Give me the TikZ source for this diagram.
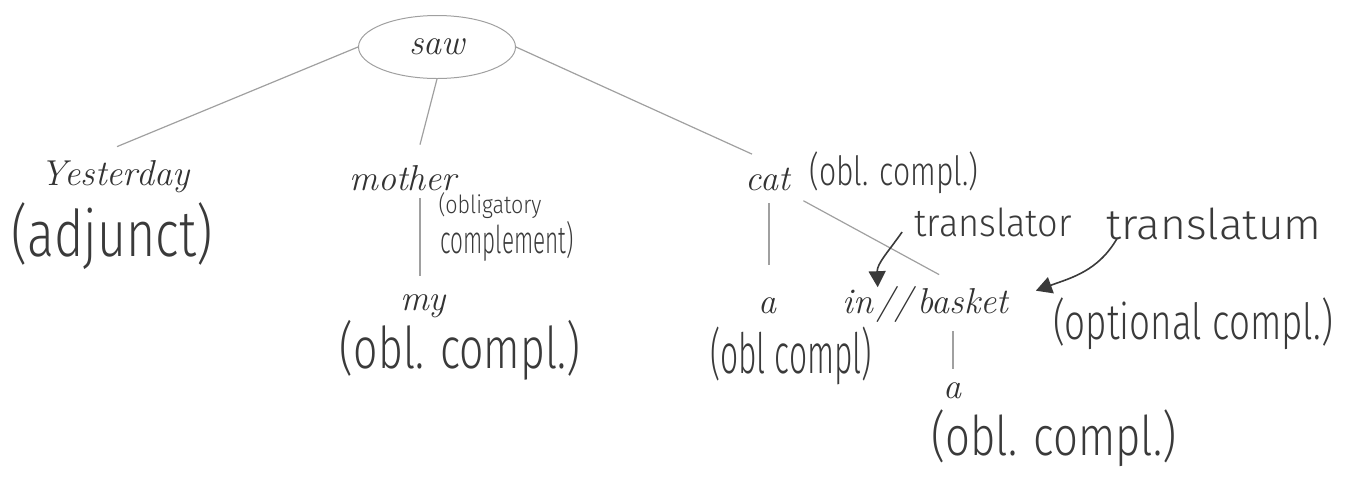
\documentclass[tikz,border=0pt]{standalone}
\usepackage{fontspec}
\usepackage{graphicx}
\newfontfamily\hwfont{Fira Sans Light}
\usetikzlibrary{shapes.geometric,arrows.meta}
\definecolor{txt}{HTML}{333333}
\definecolor{hwc}{HTML}{3A3A3A}
\definecolor{lnc}{HTML}{A0A0A0}
\newcommand{\hwtext}[3]{\resizebox*{#1}{#2}{\hwfont #3}}
\tikzset{
  word/.style={inner sep=0pt, anchor=base, text=txt, font=\fontsize{18}{21}\selectfont\itshape},
  hand/.style={inner sep=0pt, text=hwc},
  ell/.style={ellipse, draw=lnc, line width=0.5pt, minimum width=78.5pt, minimum height=31.5pt, inner sep=0pt, text=txt, font=\fontsize{18}{21}\selectfont\itshape},
  tree/.style={draw=lnc, line width=0.6pt},
  arr/.style={draw=hwc, line width=0.8pt, -{Triangle[length=8pt,width=8.5pt]}}
}
\begin{document}
\begin{tikzpicture}[x=0.5pt,y=-0.5pt]
\useasboundingbox (0,0) rectangle (1350,478);
% words
\node[ell] (saw) at (437,47) {saw};
\node[word] (yest) at (115,185) {Yesterday};
\node[word] (mother) at (403,190) {mother};
\node[word] (cat) at (768,190) {cat};
\node[word] (my) at (423,310) {my};
\node[word] (a1) at (767,313) {a};
\node[word] (in) at (858,313) {in};
\node[word] (sl) at (894,313) {//};
\node[word] (basket) at (963,313) {basket};
\node[word] (a2) at (952,398) {a};
% handwritten notes
\node[hand] (adj) at (112,236) {\hwtext{100.5pt}{33.5pt}{(adjunct)}};
\node[hand] (obl1) at (490,206) {\hwtext{51.5pt}{13pt}{(obligatory}};
\node[hand] (obl2) at (507,241) {\hwtext{66.5pt}{20pt}{complement)}};
\node[hand] (catobl) at (894,173) {\hwtext{84.5pt}{21pt}{(obl. compl.)}};
\node[hand] (myobl) at (460,350) {\hwtext{120pt}{30pt}{(obl. compl.)}};
\node[hand] (a1obl) at (791,356) {\hwtext{81pt}{29pt}{(obl compl)}};
\node[hand] (tor) at (993,222) {\hwtext{78.5pt}{14.5pt}{translator}};
\node[hand] (tum) at (1214,224) {\hwtext{107.5pt}{16pt}{translatum}};
\node[hand] (opt) at (1193,324) {\hwtext{140pt}{26pt}{(optional compl.)}};
\node[hand] (a2obl) at (1054,438) {\hwtext{122.5pt}{28.5pt}{(obl. compl.)}};
% tree connectors
\draw[tree] (saw.west) -- ([xshift=1pt,yshift=6.5pt]yest.north);
\draw[tree] (saw.south) -- ([xshift=8.5pt,yshift=10pt]mother.north);
\draw[tree] (saw.east) -- ([xshift=-8pt,yshift=6.5pt]cat.north);
\draw[tree] ([xshift=8.5pt,yshift=-3.5pt]mother.south) -- ([xshift=-1.5pt,yshift=9pt]my.north);
\draw[tree] ([xshift=0.5pt,yshift=-6pt]cat.south) -- ([xshift=1pt,yshift=16pt]a1.north);
\draw[tree] ([xshift=6.5pt,yshift=-5pt]cat.south east) -- ([xshift=11pt,yshift=6.5pt]basket.north west);
\draw[tree] ([xshift=-5pt,yshift=-8.5pt]basket.south) -- ([xshift=0.5pt,yshift=6.5pt]a2.north);
% arrows
\draw[arr] ([xshift=-6pt,yshift=-5pt]tor.west) to[out=235,in=92] ([xshift=2pt,yshift=1pt]in.north east);
\draw[arr] ([xshift=5.5pt,yshift=1pt]tum.south west) to[out=240,in=20] ([xshift=13.5pt,yshift=5pt]basket.east);
\end{tikzpicture}
\end{document}
